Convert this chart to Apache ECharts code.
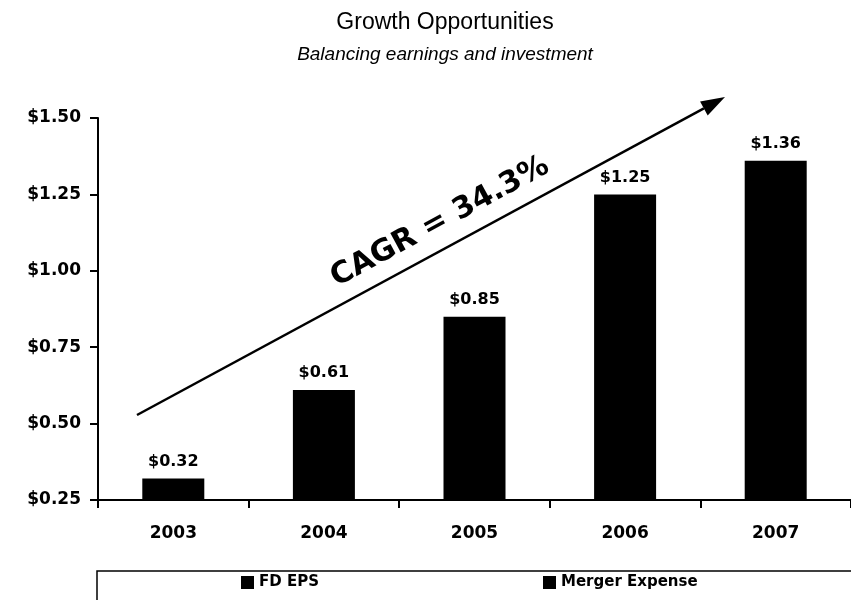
<!DOCTYPE html>
<html>
<head>
<meta charset="utf-8">
<script src="https://cdn.jsdelivr.net/npm/echarts@6/dist/echarts.min.js"></script>
<style>
  html, body { margin: 0; padding: 0; background: #fff; }
  #chart { width: 851px; height: 600px; }
</style>
</head>
<body>
<div id="chart"></div>
<script>
  // chart values
  var years = ['2003', '2004', '2005', '2006', '2007']
  var fdEps = [0.32, 0.61, 0.85, 1.25, 1.36]
  var mergerExpense = [0, 0, 0, 0, 0]
  var yTicks = [0.25, 0.50, 0.75, 1.00, 1.25, 1.50]

  var chart = echarts.init(document.getElementById('chart'))
  var font = '"Liberation Sans", Arial, sans-serif'
  var boldFont = '"DejaVu Sans", "Liberation Sans", sans-serif'

  // arrow from lower left to upper right
  var ax0 = 137, ay0 = 415, ax1 = 725, ay1 = 97
  var ang = Math.atan2(ay1 - ay0, ax1 - ax0)
  var headLen = 24, headHalf = 8
  var bx = ax1 - headLen * Math.cos(ang), by = ay1 - headLen * Math.sin(ang)
  var px = -Math.sin(ang) * headHalf, py = Math.cos(ang) * headHalf

  var legendText = { fontFamily: boldFont, fontSize: 15, fontWeight: 'bold', color: '#000' }

  chart.setOption({
    backgroundColor: '#fff',
    animation: false,
    title: [{
      text: 'Growth Opportunities',
      left: 440, top: 6, textAlign: 'center',
      textStyle: { fontFamily: font, fontSize: 23, fontWeight: 'normal', color: '#000' }
    }, {
      text: 'Balancing earnings and investment',
      left: 440, top: 40, textAlign: 'center',
      textStyle: { fontFamily: font, fontSize: 19, fontStyle: 'italic', fontWeight: 'normal', color: '#000' }
    }],
    legend: [{
      data: ['FD EPS'],
      left: 236, top: 570,
      itemWidth: 13, itemHeight: 13, itemGap: 6,
      icon: 'rect',
      textStyle: legendText
    }, {
      data: ['Merger Expense'],
      left: 538, top: 570,
      itemWidth: 13, itemHeight: 13, itemGap: 6,
      icon: 'rect',
      textStyle: legendText
    }],
    grid: { left: 98, top: 118, width: 760, height: 382, containLabel: false },
    xAxis: {
      type: 'category',
      data: years,
      axisLine: { lineStyle: { color: '#000', width: 2 } },
      axisTick: { show: true, length: 8, inside: false, lineStyle: { color: '#000', width: 2 } },
      axisLabel: { margin: 25, fontFamily: boldFont, fontSize: 17, fontWeight: 'bold', color: '#000' }
    },
    yAxis: {
      type: 'value',
      min: 0.25, max: 1.50, interval: 0.25,
      splitLine: { show: false },
      axisLine: { show: true, lineStyle: { color: '#000', width: 2 } },
      axisTick: { show: true, length: 8, lineStyle: { color: '#000', width: 2 } },
      axisLabel: {
        margin: 17, fontFamily: boldFont, fontSize: 17, fontWeight: 'bold', color: '#000',
        formatter: function (v) {
          var t = yTicks.filter(function (x) { return Math.abs(x - v) < 1e-6 })
          return t.length ? '$' + t[0].toFixed(2) : ''
        }
      }
    },
    series: [{
      name: 'FD EPS',
      type: 'bar',
      stack: 'eps',
      barWidth: 62,
      data: fdEps,
      itemStyle: { color: '#000' },
      label: {
        show: true,
        position: 'top',
        distance: 9,
        fontFamily: boldFont, fontSize: 16, fontWeight: 'bold', color: '#000',
        formatter: function (p) { return '$' + p.value.toFixed(2) }
      }
    }, {
      name: 'Merger Expense',
      type: 'bar',
      stack: 'eps',
      barWidth: 62,
      data: mergerExpense,
      itemStyle: { color: '#000' }
    }],
    graphic: [{
      type: 'line',
      shape: { x1: ax0, y1: ay0, x2: bx, y2: by },
      style: { stroke: '#000', lineWidth: 2.5 }
    }, {
      type: 'polygon',
      shape: { points: [[ax1, ay1], [bx + px, by + py], [bx - px, by - py]] },
      style: { fill: '#000' }
    }, {
      type: 'text',
      x: 440, y: 222,
      rotation: -ang,
      style: {
        text: 'CAGR = 34.3%',
        fontFamily: boldFont, fontSize: 30, fontWeight: 'bold', fill: '#000',
        align: 'center', verticalAlign: 'middle'
      }
    }, {
      type: 'rect',
      shape: { x: 97, y: 571, width: 770, height: 60 },
      style: { fill: 'none', stroke: '#000', lineWidth: 1.5 },
      z: -1
    }]
  })
</script>
</body>
</html>
